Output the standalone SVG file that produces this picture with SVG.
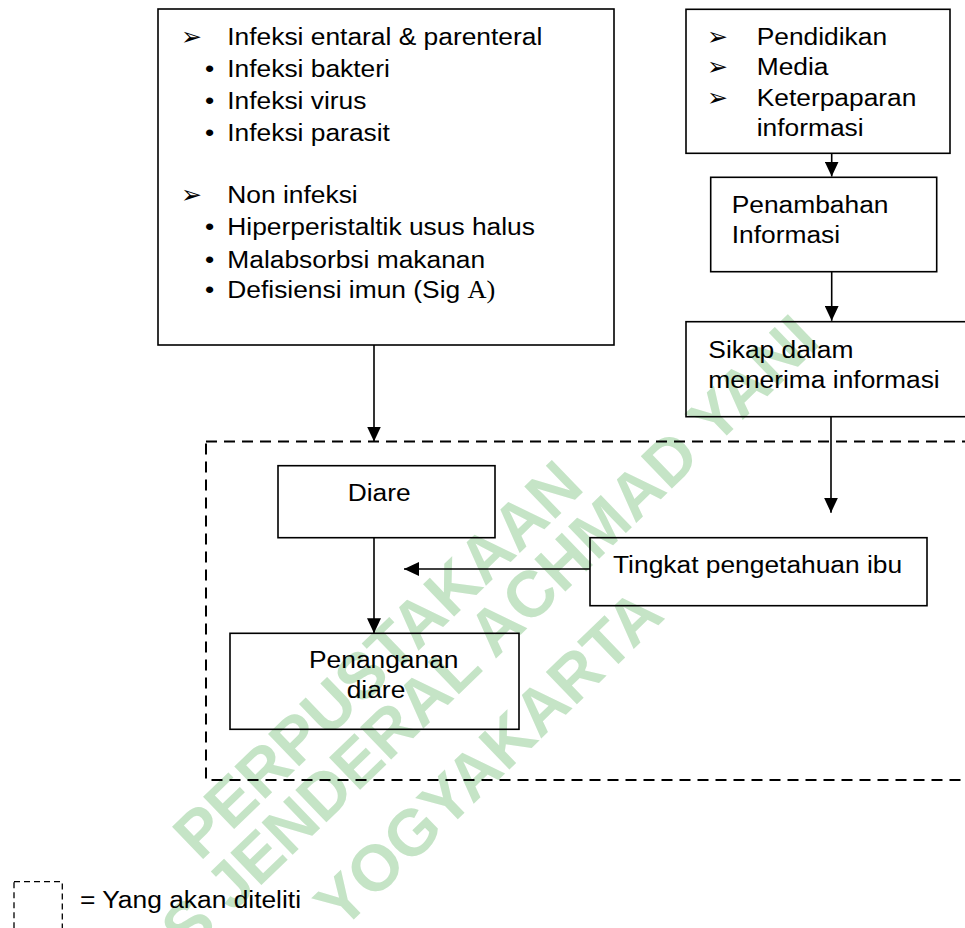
<svg xmlns="http://www.w3.org/2000/svg" width="965" height="928" viewBox="0 0 965 928">
<style>
.t{font-family:"Liberation Sans",Arial,Helvetica,sans-serif;font-size:24.3px;fill:#000}
.sym{font-family:"DejaVu Sans",sans-serif;font-size:25px;fill:#000}
.box{fill:none;stroke:#000;stroke-width:1.6}
.dash{fill:none;stroke:#000;stroke-width:2;stroke-dasharray:11 7}
.leg{fill:none;stroke:#000;stroke-width:1.3;stroke-dasharray:6 4}
.wm{font-family:"Liberation Sans",Arial,sans-serif;font-weight:bold;font-size:65px;fill:#c5e4c6}
.con{fill:none;stroke:#000;stroke-width:1.6;marker-end:url(#ah)}
</style>
<defs>
<marker id="ah" viewBox="0 0 15 14" refX="15" refY="7" markerWidth="15" markerHeight="14" markerUnits="userSpaceOnUse" orient="auto">
<path d="M0,0 L15,7 L0,14 z" fill="#000"/>
</marker>
</defs>
<g id="watermark">
<text class="wm" transform="translate(377 659) rotate(-44)" x="0" y="23" text-anchor="middle">PERPUSTAKAAN</text>
<text class="wm" transform="translate(806 327) rotate(-44)" x="0" y="23" text-anchor="end">UNIVERSITAS JENDERAL ACHMAD YANI</text>
<text class="wm" transform="translate(488 758) rotate(-44)" x="0" y="23" text-anchor="middle">YOGYAKARTA</text>
</g>
<g id="dashed-area">
<rect class="dash" x="206" y="441.5" width="775" height="338.5"/>
</g>
<g id="penyebab">
<rect class="box" x="158" y="9" width="456" height="336"/>
<text class="sym" x="181" y="45">➢</text>
<text class="t" transform="translate(227.3 45) scale(1.085 1)">Infeksi entaral &amp; parenteral</text>
<text class="t" transform="translate(205 76.7) scale(1.085 1)">•</text>
<text class="t" transform="translate(227.3 76.7) scale(1.085 1)">Infeksi bakteri</text>
<text class="t" transform="translate(205 109.3) scale(1.085 1)">•</text>
<text class="t" transform="translate(227.3 109.3) scale(1.085 1)">Infeksi virus</text>
<text class="t" transform="translate(205 141) scale(1.085 1)">•</text>
<text class="t" transform="translate(227.3 141) scale(1.085 1)">Infeksi parasit</text>
<text class="sym" x="181" y="203.3">➢</text>
<text class="t" transform="translate(227.3 203.3) scale(1.085 1)">Non infeksi</text>
<text class="t" transform="translate(205 235) scale(1.085 1)">•</text>
<text class="t" transform="translate(227.3 235) scale(1.085 1)">Hiperperistaltik usus halus</text>
<text class="t" transform="translate(205 268.3) scale(1.085 1)">•</text>
<text class="t" transform="translate(227.3 268.3) scale(1.085 1)">Malabsorbsi makanan</text>
<text class="t" transform="translate(205 298.3) scale(1.085 1)">•</text>
<text class="t" transform="translate(227.3 298.3) scale(1.085 1)">Defisiensi imun (Sig <tspan font-family="'Liberation Serif','Times New Roman',serif">A)</tspan></text>
</g>
<g id="sumber-informasi">
<rect class="box" x="686" y="9.3" width="264" height="144"/>
<text class="sym" x="707" y="45">➢</text>
<text class="t" transform="translate(756.7 45) scale(1.085 1)">Pendidikan</text>
<text class="sym" x="707" y="75">➢</text>
<text class="t" transform="translate(756.7 75) scale(1.085 1)">Media</text>
<text class="sym" x="707" y="106">➢</text>
<text class="t" transform="translate(756.7 106) scale(1.085 1)">Keterpaparan</text>
<text class="t" transform="translate(756.7 136) scale(1.085 1)">informasi</text>
</g>
<g id="penambahan-informasi">
<rect class="box" x="710.7" y="177.3" width="226" height="94.4"/>
<text class="t" transform="translate(731.7 213.3) scale(1.085 1)">Penambahan</text>
<text class="t" transform="translate(731.7 243.3) scale(1.085 1)">Informasi</text>
</g>
<g id="sikap">
<rect class="box" x="686" y="321.7" width="290" height="95"/>
<text class="t" transform="translate(708.3 358.3) scale(1.085 1)">Sikap dalam</text>
<text class="t" transform="translate(708.3 387.7) scale(1.085 1)">menerima informasi</text>
</g>
<g id="tingkat-pengetahuan">
<rect class="box" x="590" y="537.7" width="337" height="68"/>
<text class="t" transform="translate(613 572.7) scale(1.085 1)">Tingkat pengetahuan ibu</text>
</g>
<g id="diare">
<rect class="box" x="278" y="465.7" width="217" height="72"/>
<text class="t" transform="translate(347.7 500.7) scale(1.085 1)">Diare</text>
</g>
<g id="penanganan-diare">
<rect class="box" x="230" y="633.3" width="289" height="96"/>
<text class="t" transform="translate(309 668.3) scale(1.085 1)">Penanganan</text>
<text class="t" transform="translate(346.7 697.7) scale(1.085 1)">diare</text>
</g>
<g id="connectors">
<path class="con" d="M374,345 V441.5"/>
<path class="con" d="M831.7,153.3 V176.5"/>
<path class="con" d="M831.7,271.7 V320.8"/>
<path class="con" d="M831,416.7 V512.7"/>
<path class="con" d="M590,569 H404"/>
<path class="con" d="M374,537.7 V633.3"/>
</g>
<g id="legend">
<rect class="leg" x="14" y="881.7" width="48.3" height="60"/>
<text class="t" transform="translate(80 908.3) scale(1.085 1)">= Yang akan diteliti</text>
</g>
</svg>
